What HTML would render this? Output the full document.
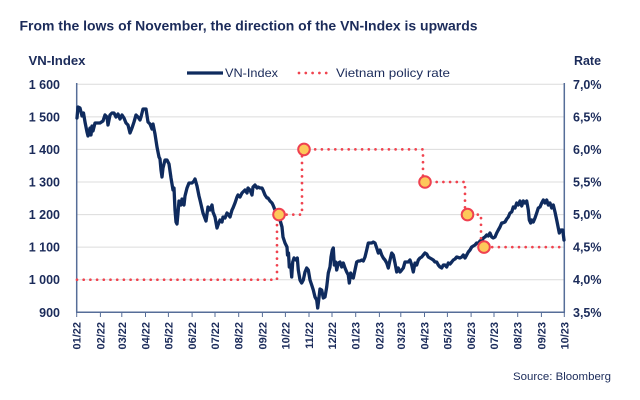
<!DOCTYPE html>
<html><head><meta charset="utf-8"><style>
html,body{margin:0;padding:0;background:#fff;}
svg{display:block;}
text{font-family:"Liberation Sans",sans-serif;fill:#1b2b5a;}
.b{font-weight:bold;}
</style></head><body>
<svg width="640" height="400" viewBox="0 0 640 400" xmlns="http://www.w3.org/2000/svg">
<rect width="640" height="400" fill="#fff"/>
<text x="19.5" y="30.5" class="b" font-size="14" textLength="458" lengthAdjust="spacingAndGlyphs">From the lows of November, the direction of the VN-Index is upwards</text>
<text x="28.5" y="65" class="b" font-size="12.5" textLength="57" lengthAdjust="spacingAndGlyphs">VN-Index</text>
<text x="574" y="65" class="b" font-size="12.5" textLength="27" lengthAdjust="spacingAndGlyphs">Rate</text>
<!-- legend -->
<line x1="187" y1="73" x2="223" y2="73" stroke="#0f2b5e" stroke-width="3.2"/>
<text x="225" y="77" font-size="12" textLength="53" lengthAdjust="spacingAndGlyphs">VN-Index</text>
<line x1="299" y1="73" x2="327" y2="73" stroke="#f0434f" stroke-width="2.7" stroke-linecap="round" stroke-dasharray="0 6.8"/>
<text x="336" y="77" font-size="12" textLength="114" lengthAdjust="spacingAndGlyphs">Vietnam policy rate</text>
<!-- grid -->
<g stroke="#dcdcdc" stroke-width="1">
<line x1="77" x2="564" y1="84.3" y2="84.3"/>
<line x1="77" x2="564" y1="116.9" y2="116.9"/>
<line x1="77" x2="564" y1="149.4" y2="149.4"/>
<line x1="77" x2="564" y1="182" y2="182"/>
<line x1="77" x2="564" y1="214.6" y2="214.6"/>
<line x1="77" x2="564" y1="247.1" y2="247.1"/>
<line x1="77" x2="564" y1="279.7" y2="279.7"/>
</g>
<!-- y labels -->
<g class="b" font-size="12.5" text-anchor="end">
<text x="60" y="88.8">1 600</text>
<text x="60" y="121.4">1 500</text>
<text x="60" y="153.9">1 400</text>
<text x="60" y="186.5">1 300</text>
<text x="60" y="219.1">1 200</text>
<text x="60" y="251.6">1 100</text>
<text x="60" y="284.2">1 000</text>
<text x="60" y="316.8">900</text>
</g>
<g class="b" font-size="12.5">
<text x="573" y="88.8">7,0%</text>
<text x="573" y="121.4">6,5%</text>
<text x="573" y="153.9">6,0%</text>
<text x="573" y="186.5">5,5%</text>
<text x="573" y="219.1">5,0%</text>
<text x="573" y="251.6">4,5%</text>
<text x="573" y="284.2">4,0%</text>
<text x="573" y="316.8">3,5%</text>
</g>
<!-- axes -->
<g stroke="#566d98" stroke-width="1.5" fill="none">
<line x1="76.7" y1="83" x2="76.7" y2="312.3"/>
<line x1="564.3" y1="83" x2="564.3" y2="312.3"/>
<line x1="76" y1="312.3" x2="565" y2="312.3"/>
</g>
<g stroke="#566d98" stroke-width="1">
<line x1="76.7" x2="76.7" y1="312" y2="317"/>
<line x1="100.4" x2="100.4" y1="312" y2="317"/>
<line x1="121.8" x2="121.8" y1="312" y2="317"/>
<line x1="145.5" x2="145.5" y1="312" y2="317"/>
<line x1="168.4" x2="168.4" y1="312" y2="317"/>
<line x1="192.1" x2="192.1" y1="312" y2="317"/>
<line x1="215.0" x2="215.0" y1="312" y2="317"/>
<line x1="238.7" x2="238.7" y1="312" y2="317"/>
<line x1="262.4" x2="262.4" y1="312" y2="317"/>
<line x1="285.4" x2="285.4" y1="312" y2="317"/>
<line x1="309.0" x2="309.0" y1="312" y2="317"/>
<line x1="332.0" x2="332.0" y1="312" y2="317"/>
<line x1="355.7" x2="355.7" y1="312" y2="317"/>
<line x1="379.4" x2="379.4" y1="312" y2="317"/>
<line x1="400.8" x2="400.8" y1="312" y2="317"/>
<line x1="424.5" x2="424.5" y1="312" y2="317"/>
<line x1="447.4" x2="447.4" y1="312" y2="317"/>
<line x1="471.1" x2="471.1" y1="312" y2="317"/>
<line x1="494.0" x2="494.0" y1="312" y2="317"/>
<line x1="517.7" x2="517.7" y1="312" y2="317"/>
<line x1="541.4" x2="541.4" y1="312" y2="317"/>
<line x1="564.3" x2="564.3" y1="312" y2="317"/>
</g>
<g class="b" font-size="11" text-anchor="end">
<text transform="translate(80.7,322) rotate(-90)">01/22</text>
<text transform="translate(104.4,322) rotate(-90)">02/22</text>
<text transform="translate(125.8,322) rotate(-90)">03/22</text>
<text transform="translate(149.5,322) rotate(-90)">04/22</text>
<text transform="translate(172.4,322) rotate(-90)">05/22</text>
<text transform="translate(196.1,322) rotate(-90)">06/22</text>
<text transform="translate(219.0,322) rotate(-90)">07/22</text>
<text transform="translate(242.7,322) rotate(-90)">08/22</text>
<text transform="translate(266.4,322) rotate(-90)">09/22</text>
<text transform="translate(289.4,322) rotate(-90)">10/22</text>
<text transform="translate(313.0,322) rotate(-90)">11/22</text>
<text transform="translate(336.0,322) rotate(-90)">12/22</text>
<text transform="translate(359.7,322) rotate(-90)">01/23</text>
<text transform="translate(383.4,322) rotate(-90)">02/23</text>
<text transform="translate(404.8,322) rotate(-90)">03/23</text>
<text transform="translate(428.5,322) rotate(-90)">04/23</text>
<text transform="translate(451.4,322) rotate(-90)">05/23</text>
<text transform="translate(475.1,322) rotate(-90)">06/23</text>
<text transform="translate(498.0,322) rotate(-90)">07/23</text>
<text transform="translate(521.7,322) rotate(-90)">08/23</text>
<text transform="translate(545.4,322) rotate(-90)">09/23</text>
<text transform="translate(568.3,322) rotate(-90)">10/23</text>
</g>
<!-- VN-Index series -->
<polyline fill="none" stroke="#0f2b5e" stroke-width="3.3" stroke-linejoin="round" stroke-linecap="round" points="
77,118 78,107 80,108 82,116 83.5,113 85,122 87,132 88,136 90,128 91,135 92,126 93,131 95,123 97,123 100,123 103,121 105,115 107,117 108,125 110,115 112,113 114,113 116,117 118,114 120,119 122,115 124,118 126,123 128,125 130,133 132,128 134,122 136,115 138,117 140,120 141,117 143,109 146,109 148,122 150,124 152,129 153,124 155,134 157,147 159,157 160,159 161,170 162,177 163,168 165,160 167,160 169,164 171,178 173,190 174,188 175,210 176,222 177,224 178,213 179,201 181,205 182,199 184,205 185,196 187,188 189,183 192,183 194,181 195,179 197,186 199,196 200,200
203,213 206,221 208,207 210,210 212,205 213,212 215,217 217,228 218,225 220,220 222,222 223,217 225,218 227,213 228,214 230,217 232,210 233,208 235,203 237,197 238,195 240,197 242,193 243,192 245,190 247,193 248,188 250,190 252,195 253,187 255,185 257,188 258,187 260,188 262,188 263,190 265,195 267,198 268,198 270,201 272,203 273,205 275,210 277,213 279,216
280,220 282,227 283,237 285,243 287,247 287.5,255 288.5,253 289.3,267 290.7,265 291.7,277 292.7,262 294,258 296,260 297.3,258 298.3,270 300,280 301.7,283 303.3,280 305,272 306.7,268 308.3,270 310,280 311.7,285 313.3,290 315,297 316.7,300 317.7,308 318.7,300 320,289 321.7,290 323.3,298 325,297 326.7,287 328.3,273 330,267 331,257 332.3,250 333.3,248 334.3,265 335.7,262 336.7,270 338.3,263 340,262 341.7,267 343.3,263 345,268 346.7,272 348.3,275 349.3,283 350.7,273 351.7,277 353.3,278 355,270 356.7,262 358.3,261 360,261 361.7,260 363.3,261 365,257 366.7,250 368.3,243 370,243 371.7,243 373.3,242 375,243 376.7,248 378.3,253 380,250 381.7,255 383.3,258 385,260 386.7,263 388.3,268 390,260 391.7,253 393.3,255 395,263 396.7,272 398.3,268 400,272 401.7,270 403.3,268 405,262 406.7,262 408.3,262 410,260 411.7,265 413.3,272 415,263 416.7,265 418.3,260 420,258 421.7,257 423.3,255 425,253 426.7,254 428.3,257 430,258
431.7,259 433.3,260 435,262 436.7,262 438.3,265 440,267 441.7,268 443.3,265 445,265 446.7,267 448.3,263 450,264 451.7,262 453.3,260 455,259 456.7,257 458.3,257.5 460,258 461.7,257 463.3,255 465,258 466.7,255 468.3,252 470,250 471.7,247 473.3,246 475,245 476.7,243 478.3,243.3 480,241 481.7,242 483.3,238 485,237 486.7,235 488.3,236 490,233 491.7,237 493.3,238 495,237 496.7,233 498.3,230 500,227 501.7,223 503.3,222.7 505,222 506.7,219 508.3,217 510,213 511.7,212 513.3,207 515,208 516.7,203 518.3,205 520,201 521.7,206 523.3,201 525,203 526.7,201 528.3,210 529.3,220 530.7,223 531.7,220 533.3,222 535,218 536.7,213 538.3,208 540,207 541.7,203 543.3,200 545,203 546.7,200 548.3,205 550,203 551.7,208 553.3,205 555,212 556.7,220 558.3,228 559.3,233 560.7,230 562.7,230 564,240"/>
<!-- policy rate -->
<polyline fill="none" stroke="#f0434f" stroke-width="2.7" stroke-linecap="round" stroke-dasharray="0 6.7" points="77,279.7 277,279.7 277,214.6 302,214.6 302,149.4 423,149.4 423,182 465,182 465,214.6 481,214.6 481,247.1 564,247.1"/>
<g fill="#fdc85a" stroke="#ef4150" stroke-width="2">
<circle cx="279" cy="214.6" r="5.8"/>
<circle cx="304" cy="149.4" r="5.8"/>
<circle cx="425" cy="182" r="5.8"/>
<circle cx="467.5" cy="214.6" r="5.8"/>
<circle cx="484" cy="247.1" r="5.8"/>
</g>
<text x="513" y="380" font-size="11" fill="#2c3f6e" textLength="98" lengthAdjust="spacingAndGlyphs">Source: Bloomberg</text>
</svg>
</body></html>
